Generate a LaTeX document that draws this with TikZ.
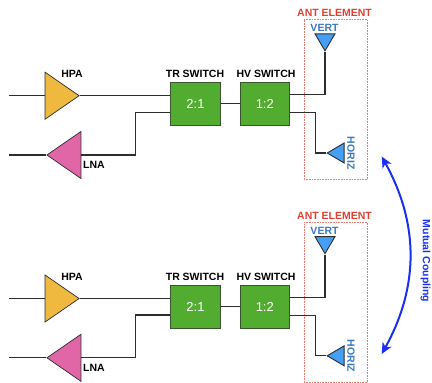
\documentclass[tikz,border=0pt]{standalone}
\usepackage{fontspec}
\setmainfont{Liberation Sans}
\usetikzlibrary{shapes,calc,arrows.meta}

\begin{document}
\begin{tikzpicture}[x=1pt, y=-1pt, line width=1.2pt]
	% Colores
	\definecolor{hpacolor}{RGB}{239, 185, 63}
	\definecolor{lnacolor}{RGB}{224, 102, 168}
	\definecolor{switchcolor}{RGB}{82, 172, 47}
	\definecolor{anttri}{RGB}{69, 159, 245}
	\definecolor{antblue}{RGB}{59, 120, 192}
	\definecolor{antred}{RGB}{224, 64, 48}
	\definecolor{couplecolor}{RGB}{26, 48, 240}
	\definecolor{wirecolor}{RGB}{45, 45, 45}

	% Estilos
	\tikzset{
		wire/.style={draw=wirecolor},
		amptri/.style={isosceles triangle, isosceles triangle stretches, draw=wirecolor, line width=0.7pt, inner sep=0pt, minimum width=47pt, minimum height=34pt},
		anttriangle/.style={isosceles triangle, isosceles triangle stretches, draw=wirecolor, fill=anttri, line width=0.9pt, inner sep=0pt, minimum width=20pt, minimum height=17pt},
		switchbox/.style={draw=wirecolor!70!switchcolor, fill=switchcolor, line width=0.7pt, minimum height=43pt, text=white, font=\fontsize{13}{13}\selectfont, inner sep=0pt},
		blabel/.style={font=\fontsize{10.5}{11}\selectfont\bfseries, inner sep=0pt},
		antlabel/.style={blabel, text=antblue},
		antbox/.style={draw=antred!70, line width=0.6pt, densely dotted}
	}

	\useasboundingbox (0,0) rectangle (432,383);

	% --- Grupo superior ---
	\draw[antbox] (304,19.5) rectangle (367.5,179.5);
	\node[amptri, fill=hpacolor, anchor=apex] (hpaA) at (80,95.7) {};
	\node[amptri, fill=lnacolor, shape border rotate=180, anchor=apex] (lnaA) at (46,155) {};
	\node[switchbox, minimum width=50pt] (trA) at (195.5,103.7) {2:1};
	\node[switchbox, minimum width=49.5pt] (hvA) at (264.8,103.7) {1:2};
	\node[anttriangle, shape border rotate=-90, anchor=apex] (vertA) at (325,52) {};
	\node[anttriangle, shape border rotate=180, anchor=apex] (horizA) at (326,153) {};
	\coordinate (inhpaA) at (9,95.7);
	\coordinate (inlnaA) at (9,155);

	\node[blabel] (hpatxtA) at (72,74) {HPA};
	\node[blabel] (lnatxtA) at (94,165) {LNA};
	\node[blabel] (trtxtA) at (195,74) {TR SWITCH};
	\node[blabel] (hvtxtA) at (266,74) {HV SWITCH};
	\node[blabel, text=antred] (anttxtA) at (334.5,13.3) {ANT ELEMENT};
	\node[antlabel] (verttxtA) at (324.5,28.3) {VERT};
	\node[antlabel, rotate=-90] (horiztxtA) at (351,153.3) {HORIZ};

	\draw[wire] (inhpaA) -- (hpaA.west);
	\draw[wire] (hpaA.apex) -- (trA.west |- hpaA.apex);
	\draw[wire] (inlnaA) -- (lnaA.apex);
	\draw[wire] (lnaA.east) -- ++(54,0) |- ($(trA.west)+(0,8.5)$);
	\draw[wire] (trA) -- (hvA);
	\draw[wire] ($(hvA.east)+(0,-9)$) -| (vertA.apex);
	\draw[wire] ($(hvA.east)+(0,9)$) -- ++(25.5,0) |- (horizA.apex);

	% --- Grupo inferior ---
	\draw[antbox] (304,222.3) rectangle (367.5,382.3);
	\node[amptri, fill=hpacolor, anchor=apex] (hpaB) at (80,298.5) {};
	\node[amptri, fill=lnacolor, shape border rotate=180, anchor=apex] (lnaB) at (46,357.8) {};
	\node[switchbox, minimum width=50pt] (trB) at (195.5,306.5) {2:1};
	\node[switchbox, minimum width=49.5pt] (hvB) at (264.8,306.5) {1:2};
	\node[anttriangle, shape border rotate=-90, anchor=apex] (vertB) at (325,254.8) {};
	\node[anttriangle, shape border rotate=180, anchor=apex] (horizB) at (326,355.8) {};
	\coordinate (inhpaB) at (9,298.5);
	\coordinate (inlnaB) at (9,357.8);

	\node[blabel] (hpatxtB) at (72,276.5) {HPA};
	\node[blabel] (lnatxtB) at (94,367.5) {LNA};
	\node[blabel] (trtxtB) at (195,276.5) {TR SWITCH};
	\node[blabel] (hvtxtB) at (266,276.5) {HV SWITCH};
	\node[blabel, text=antred] (anttxtB) at (334.5,216) {ANT ELEMENT};
	\node[antlabel] (verttxtB) at (324.5,231) {VERT};
	\node[antlabel, rotate=-90] (horiztxtB) at (351,356) {HORIZ};

	\draw[wire] (inhpaB) -- (hpaB.west);
	\draw[wire] (hpaB.apex) -- (trB.west |- hpaB.apex);
	\draw[wire] (inlnaB) -- (lnaB.apex);
	\draw[wire] (lnaB.east) -- ++(54,0) |- ($(trB.west)+(0,8.5)$);
	\draw[wire] (trB) -- (hvB);
	\draw[wire] ($(hvB.east)+(0,-9)$) -| (vertB.apex);
	\draw[wire] ($(hvB.east)+(0,9)$) -- ++(25.5,0) |- (horizB.apex);

	% --- Acoplamiento mutuo ---
	\coordinate (coupletop) at (381.7,156.5);
	\coordinate (couplebot) at (381.7,354);
	\draw[{Stealth[length=11pt,width=10pt,inset=3pt]}-{Stealth[length=11pt,width=10pt,inset=3pt]}, draw=couplecolor, line width=2pt] (coupletop) to[bend left=29] (couplebot);
	\node[blabel, text=couplecolor, rotate=-90] (coupletxt) at (425.5,261) {Mutual Coupling};
\end{tikzpicture}
\end{document}
